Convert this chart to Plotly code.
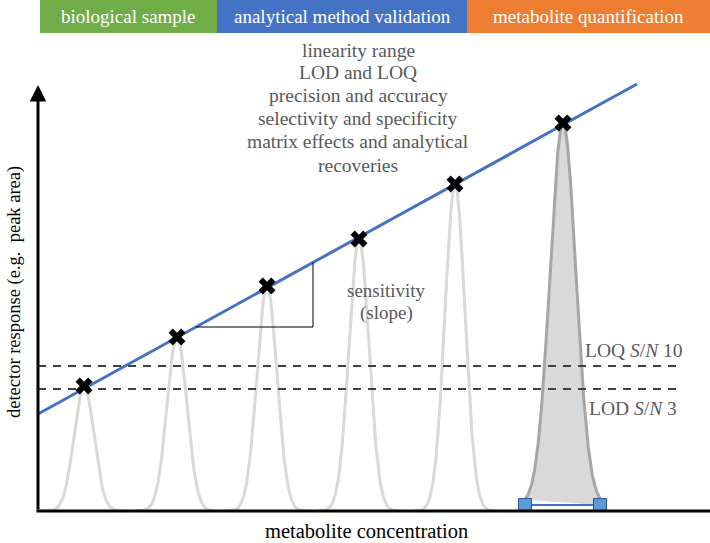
import numpy as np
import plotly.graph_objects as go

# ---- data (concentration / response in drawing units, origin at axis corner) ----
calib_conc = [46, 139, 229, 321, 417]
calib_resp = [125, 174, 225, 272, 327]
sample_conc = 525
sample_resp = 388
fit_intercept = 97
fit_slope = 0.551
fit_range = [0, 599]
loq_level = 145
lod_level = 122
peak_sigma = 10
sample_sigma = 13
sample_base = [487, 562]
sample_base_level = 6

phases = ["biological sample", "analytical method validation", "metabolite quantification"]
phase_edges = [2, 179, 429, 672]
phase_colors = ["#70ad47", "#4472c4", "#ed7d31"]

validation_items = ["linearity range", "LOD and LOQ", "precision and accuracy",
                    "selectivity and specificity", "matrix effects and analytical", "recoveries"]
validation_levels = [461, 439, 416, 393, 370, 346]

FONT = "Liberation Serif"
GRAY_TXT = "#595959"

fig = go.Figure()

# calibration peaks
for c, h in zip(calib_conc, calib_resp):
    xs = np.linspace(c - 42, c + 42, 200)
    ys = h * np.exp(-((xs - c) ** 2) / (2 * peak_sigma ** 2))
    fig.add_trace(go.Scatter(x=xs, y=ys, mode="lines",
                             line=dict(color="#d9d9d9", width=3), hoverinfo="skip"))

# sample peak (filled)
xs = np.linspace(sample_base[0], sample_base[1], 300)
ys = sample_base_level + (sample_resp - sample_base_level) * np.exp(
    -((xs - sample_conc) ** 2) / (2 * sample_sigma ** 2))
fig.add_trace(go.Scatter(x=np.r_[xs, xs[::-1][:1]], y=np.r_[ys, [sample_base_level]],
                         mode="lines", fill="toself", fillcolor="#d9d9d9",
                         line=dict(color="#a6a6a6", width=3), hoverinfo="skip"))

# LOQ / LOD dashed lines
for lvl in [loq_level, lod_level]:
    fig.add_trace(go.Scatter(x=[0, 640], y=[lvl, lvl], mode="lines",
                             line=dict(color="#404040", width=2, dash="8px,7px"),
                             hoverinfo="skip"))

# calibration line
fig.add_trace(go.Scatter(x=fit_range,
                         y=[fit_intercept + fit_slope * v for v in fit_range],
                         mode="lines", line=dict(color="#4472c4", width=3), hoverinfo="skip"))

# slope triangle
tri_x0 = (184 - fit_intercept) / fit_slope
tri_x1 = 275
fig.add_trace(go.Scatter(x=[tri_x0, tri_x1, tri_x1],
                         y=[184, 184, fit_intercept + fit_slope * tri_x1],
                         mode="lines", line=dict(color="black", width=1), hoverinfo="skip"))

# sample base markers
fig.add_trace(go.Scatter(x=sample_base, y=[sample_base_level] * 2, mode="lines+markers",
                         line=dict(color="#4472c4", width=2),
                         marker=dict(symbol="square", size=13, color="#5b9bd5",
                                     line=dict(color="#2f5597", width=1)),
                         hoverinfo="skip"))

# calibration points
fig.add_trace(go.Scatter(x=calib_conc + [sample_conc], y=calib_resp + [sample_resp],
                         mode="markers",
                         marker=dict(symbol="x", size=15, color="black",
                                     line=dict(width=0)),
                         hoverinfo="skip"))

shapes = []
annotations = []
# phase banners
for i, name in enumerate(phases):
    shapes.append(dict(type="rect", xref="x", yref="y", x0=phase_edges[i], x1=phase_edges[i + 1],
                       y0=478, y1=511, fillcolor=phase_colors[i], line=dict(width=0), layer="above"))
    annotations.append(dict(x=(phase_edges[i] + phase_edges[i + 1]) / 2, y=495, text=name,
                            showarrow=False, font=dict(family=FONT, size=19, color="white"),
                            xanchor="center", yanchor="middle"))

# x axis line
shapes.append(dict(type="line", xref="x", yref="y", x0=-1.5, x1=672, y0=0, y1=0,
                   line=dict(color="black", width=3)))
# y axis arrow
annotations.append(dict(x=0, y=426, ax=0, ay=0, xref="x", yref="y", axref="x", ayref="y",
                        showarrow=True, arrowhead=2, arrowsize=1.1, arrowwidth=3,
                        arrowcolor="black", text=""))

for txt, lvl in zip(validation_items, validation_levels):
    annotations.append(dict(x=320, y=lvl, text=txt, showarrow=False,
                            font=dict(family=FONT, size=19.5, color=GRAY_TXT)))

annotations += [
    dict(x=348, y=221, text="sensitivity", showarrow=False,
         font=dict(family=FONT, size=19, color=GRAY_TXT)),
    dict(x=348, y=198, text="(slope)", showarrow=False,
         font=dict(family=FONT, size=19, color=GRAY_TXT)),
    dict(x=596, y=161, text="LOQ <i>S</i>/<i>N</i> 10", showarrow=False,
         font=dict(family=FONT, size=19.5, color=GRAY_TXT)),
    dict(x=595, y=103, text="LOD <i>S</i>/<i>N</i> 3", showarrow=False,
         font=dict(family=FONT, size=19.5, color=GRAY_TXT)),
    dict(x=328, y=-20, text="metabolite concentration", showarrow=False,
         font=dict(family=FONT, size=20.5, color="black")),
    dict(x=-24, y=219, text="detector response (e.g.  peak area)", showarrow=False,
         textangle=-90, font=dict(family=FONT, size=18.5, color="black")),
]

fig.update_layout(
    width=710, height=543, margin=dict(l=0, r=0, t=0, b=0),
    paper_bgcolor="white", plot_bgcolor="white", showlegend=False,
    font=dict(family=FONT),
    xaxis=dict(range=[-38, 672], visible=False, fixedrange=True),
    yaxis=dict(range=[-32, 511], visible=False, fixedrange=True),
    shapes=shapes, annotations=annotations,
)

fig.write_html("out.html", config={"displayModeBar": False},
               post_script="document.body.style.margin='0';")
